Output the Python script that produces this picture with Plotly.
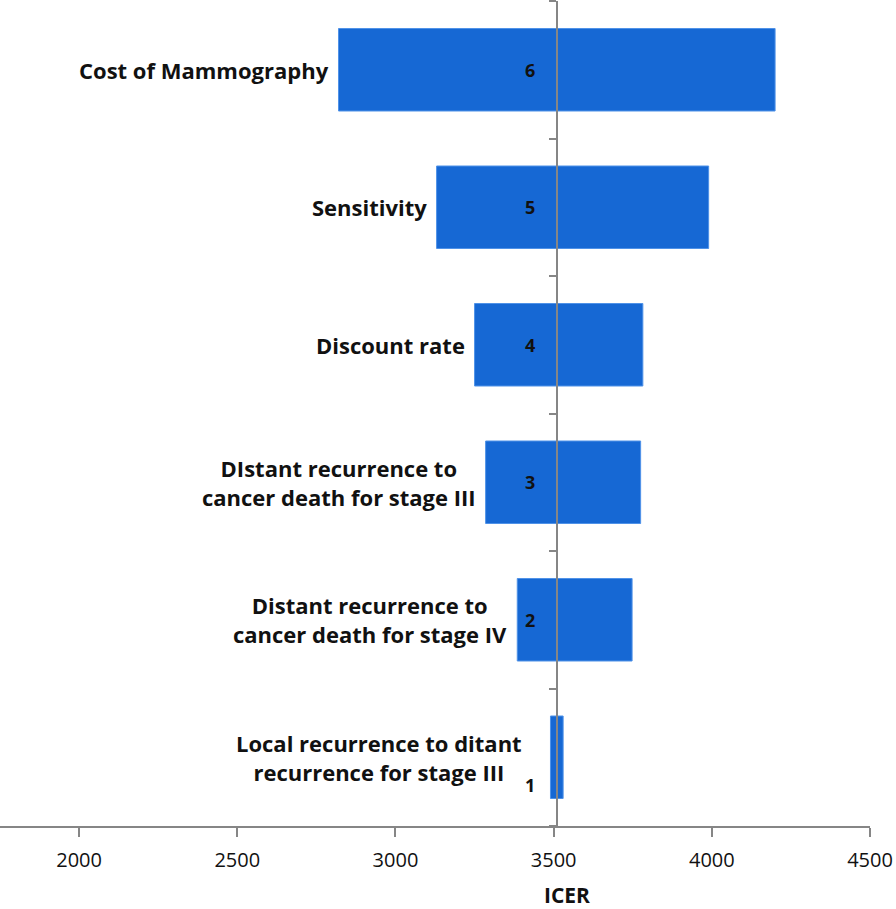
import plotly.graph_objects as go

# Data (bottom to top)
ranks = ["1", "2", "3", "4", "5", "6"]
names = [
    "Local recurrence to ditant<br>recurrence for stage III",
    "Distant recurrence to<br>cancer death for stage IV",
    "DIstant recurrence to<br>cancer death for stage III",
    "Discount rate",
    "Sensitivity",
    "Cost of Mammography",
]
low_icer = [3490, 3385, 3285, 3250, 3130, 2820]
high_icer = [3530, 3748, 3775, 3782, 3990, 4200]
base_icer = 3510
x_range = [1750, 4500]
x_ticks = [2000, 2500, 3000, 3500, 4000, 4500]

FONT = "Open Sans"
BAR_COLOR = "#1668d4"
AXIS_COLOR = "#868686"
# label offsets (style only): the smallest bar's labels are nudged as in the original
name_xshift = [-26, -8, -8, -8, -8, -8]
rank_yshift = [-28, 0, 0, 0, 0, 0]

fig = go.Figure()
fig.add_trace(go.Bar(
    y=ranks,
    x=[h - l for h, l in zip(high_icer, low_icer)],
    base=low_icer,
    orientation="h",
    width=0.6,
    marker=dict(color=BAR_COLOR, line=dict(color="#4f92e8", width=1)),
    hoverinfo="skip",
))

for i, (n, l) in enumerate(zip(names, low_icer)):
    fig.add_annotation(
        x=l, y=i, xref="x", yref="y",
        text=n, showarrow=False, xanchor="right", yanchor="middle",
        xshift=name_xshift[i], align="center",
        font=dict(family=FONT, size=22, color="#111111", weight="bold"),
    )

for i, r in enumerate(ranks):
    fig.add_annotation(
        x=base_icer, y=i, xref="x", yref="y",
        text=r, showarrow=False, xanchor="right", yanchor="middle",
        xshift=-20, yshift=rank_yshift[i],
        font=dict(family=FONT, size=18, color="#111111", weight="bold"),
    )

fig.add_annotation(
    x=567 / 870, y=0, xref="paper", yref="paper",
    text="ICER", showarrow=False, xanchor="center", yanchor="top",
    yshift=-53,
    font=dict(family=FONT, size=21, color="#111111", weight="bold"),
)

pos = (base_icer - x_range[0]) / (x_range[1] - x_range[0])

fig.update_layout(
    width=896, height=909,
    margin=dict(l=0, r=26, t=1, b=83),
    plot_bgcolor="white", paper_bgcolor="white",
    showlegend=False,
    xaxis=dict(
        range=x_range, tickvals=x_ticks, showgrid=False, zeroline=False,
        showline=True, linecolor=AXIS_COLOR, linewidth=2,
        ticks="outside", ticklen=9, tickwidth=2, tickcolor=AXIS_COLOR,
        ticklabelstandoff=6,
        tickfont=dict(family=FONT, size=20, color="#111111"),
    ),
    yaxis=dict(
        type="category", categoryorder="array", categoryarray=ranks,
        range=[-0.5, 5.5], anchor="free", position=pos,
        showgrid=False, zeroline=False,
        showline=True, linecolor=AXIS_COLOR, linewidth=2,
        ticks="outside", tickson="boundaries", ticklen=7, tickwidth=2,
        tickcolor=AXIS_COLOR, showticklabels=False,
    ),
)

fig.write_html(
    "out.html",
    config={"displayModeBar": False},
    post_script="document.body.style.margin='0';document.body.style.overflow='hidden';",
)
